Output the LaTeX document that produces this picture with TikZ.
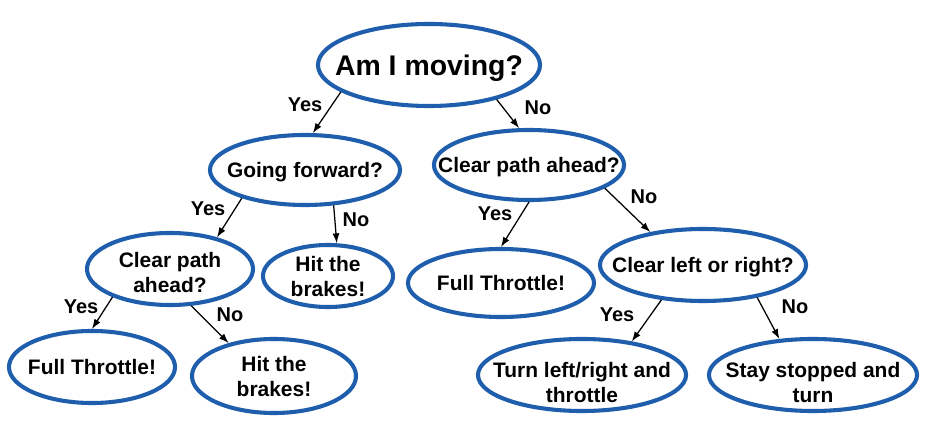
\documentclass[tikz,border=0pt]{standalone}
\usepackage{fontspec}
\setmainfont{Liberation Sans}
\usetikzlibrary{shapes,arrows.meta,positioning,shadows}
\definecolor{ovalblue}{RGB}{30,94,172}

\begin{document}
\begin{tikzpicture}[x=0.025cm, y=-0.025cm, >={Latex[length=7pt,width=5pt]},
  oval/.style={ellipse, draw=ovalblue, line width=2.9pt, fill=white, inner sep=-2cm,
    text depth=0pt, align=center, font=\bfseries\fontsize{14.9}{17.8}\selectfont,
    drop shadow={opacity=0.2, shadow xshift=0.6pt, shadow yshift=-0.8pt}},
  answer/.style={font=\bfseries\fontsize{14.2}{17}\selectfont, inner sep=0pt},
  link/.style={->, line width=0.9pt}]
  \useasboundingbox (0,0) rectangle (928,432);

  \node [oval, minimum width=5.55cm, minimum height=2.05cm,
    font=\bfseries\fontsize{20.2}{24}\selectfont] (moving) at (429,65) {Am I moving?};

  \node [oval, minimum width=4.75cm, minimum height=1.75cm] (forward) at (305,170) {Going forward?};
  \node [oval, minimum width=4.75cm, minimum height=1.75cm] (pathR) at (529,165) {Clear path ahead?};

  \node [oval, minimum width=4.15cm, minimum height=1.8cm, text height=33.7pt] (pathL) at (170,269) {Clear path\\ahead?};
  \node [oval, minimum width=3.25cm, minimum height=1.55cm] (brakesA) at (328,276) {Hit the\\brakes!};
  \node [oval, minimum width=4.65cm, minimum height=1.7cm] (throttleR) at (501,283) {Full Throttle!};
  \node [oval, minimum width=5.15cm, minimum height=1.8cm] (sides) at (703,265) {Clear left or right?};

  \node [oval, minimum width=4.15cm, minimum height=1.8cm] (throttleL) at (92,367) {Full Throttle!};
  \node [oval, minimum width=4.1cm, minimum height=1.85cm] (brakesB) at (274,376) {Hit the\\brakes!};
  \node [oval, minimum width=5.2cm, minimum height=1.8cm, text height=38.7pt] (turn) at (582,375) {Turn left/right and\\throttle};
  \node [oval, minimum width=5.2cm, minimum height=1.8cm, text height=38.7pt] (stay) at (813,375) {Stay stopped and\\turn};

  % answers
  \node [answer] (yes1) at (305,105) {Yes};
  \node [answer] (no1) at (538,108) {No};
  \node [answer] (yes2) at (208,209) {Yes};
  \node [answer] (no2) at (356,220) {No};
  \node [answer] (yes3) at (81,307) {Yes};
  \node [answer] (no3) at (230,315) {No};
  \node [answer] (yes4) at (495,214) {Yes};
  \node [answer] (no4) at (644,197) {No};
  \node [answer] (yes5) at (617,315) {Yes};
  \node [answer] (no5) at (795,307) {No};

  \draw [link] (moving.197) -- (forward.78);
  \draw [link] (moving.333) -- (pathR.105);
  \draw [link] (forward.204) -- (pathL.34);
  \draw [link] (forward.309) -- (brakesA.75);
  \draw [link] (pathL.206) -- (throttleL.90);
  \draw [link] (pathL.300) -- (brakesB.144);
  \draw [link] (pathR.270) -- (throttleR.90);
  \draw [link] (pathR.343) -- (sides.148);
  \draw [link] (sides.220) -- (turn.34);
  \draw [link] (sides.329) -- (stay.133);
\end{tikzpicture}
\end{document}
